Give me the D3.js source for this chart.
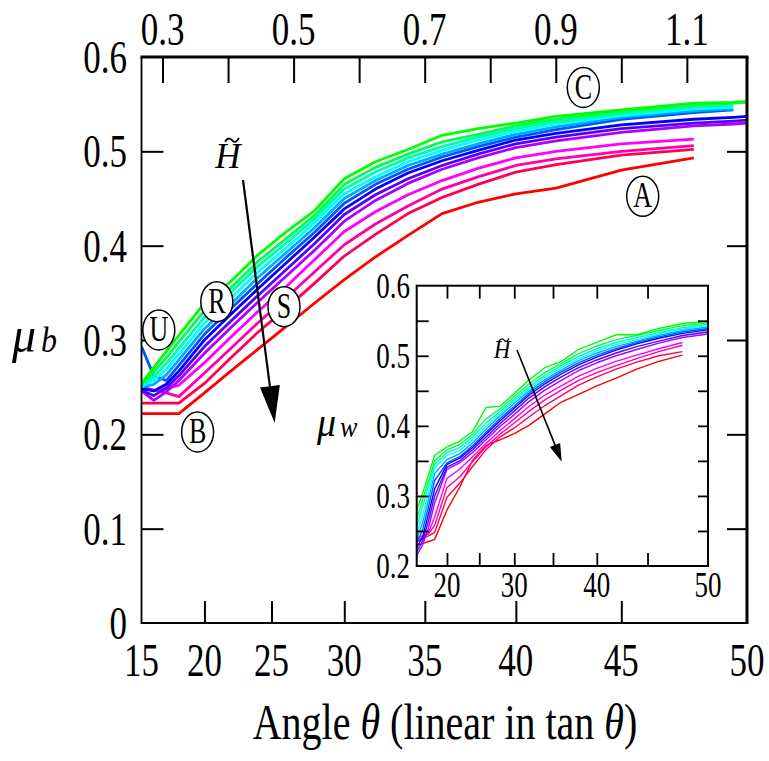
<!DOCTYPE html>
<html><head><meta charset="utf-8">
<script src="https://cdn.jsdelivr.net/npm/d3@7"></script>
<style>body{margin:0;background:#fff;} svg{display:block;}</style>
</head><body>
<svg id="chart" width="769" height="761"></svg>
<script>
// ---------- DATA ----------
const angles = [15,16,17,18,20,22,24,26,28,30,32,34,36,38,40,42,45,48,49.5,50];
const hues = [120,140,160,180,200,220,240,260,280,300,320,340,360];
const mu0  = [0.254,0.271,0.288,0.305,0.339,0.362,0.390,0.414,0.437,0.471,0.489,0.502,0.517,0.524,0.530,0.537,0.544,0.551,0.552,0.553];
const mu1  = [0.253,0.266,0.281,0.298,0.331,0.355,0.383,0.407,0.432,0.465,0.483,0.497,0.510,0.518,0.527,0.534,0.542,0.549,0.551,0.552];
const mu2  = [0.252,0.261,0.275,0.291,0.324,0.350,0.378,0.402,0.428,0.460,0.478,0.493,0.505,0.515,0.524,0.531,0.540,0.547,0.549,null];
const mu3  = [0.251,0.257,0.269,0.285,0.318,0.344,0.372,0.397,0.424,0.455,0.473,0.489,0.501,0.512,0.521,0.529,0.538,0.545,0.547,null];
const mu4  = [0.250,0.253,0.263,0.279,0.312,0.338,0.366,0.392,0.419,0.450,0.469,0.485,0.497,0.508,0.518,0.526,0.536,0.543,0.545,null];
const mu5  = [0.293,0.262,0.257,0.273,0.306,0.333,0.360,0.387,0.414,0.445,0.465,0.481,0.494,0.505,0.515,0.523,0.534,0.541,0.544,null];
const mu6  = [0.249,0.246,0.253,0.267,0.300,0.327,0.354,0.381,0.409,0.439,0.460,0.477,0.490,0.501,0.512,0.519,0.528,0.534,0.536,0.537];
const mu7  = [0.247,0.241,0.249,0.262,0.293,0.320,0.347,0.374,0.402,0.433,0.454,0.471,0.485,0.497,0.508,0.515,0.524,0.530,0.532,0.533];
const mu8  = [0.246,0.236,0.245,0.257,0.286,0.313,0.340,0.367,0.395,0.426,0.448,0.466,0.481,0.493,0.504,0.511,0.520,0.527,0.529,0.530];
const mu9  = [0.249,0.246,0.249,0.252,0.276,0.303,0.330,0.356,0.385,0.415,0.436,0.454,0.469,0.482,0.493,0.500,0.508,0.513,null,null];
const mu10 = [0.250,0.247,0.244,0.240,0.265,0.291,0.318,0.344,0.372,0.401,0.423,0.442,0.460,0.473,0.485,0.492,0.500,0.506,null,null];
const mu11 = [0.233,0.233,0.233,0.233,0.254,0.281,0.308,0.333,0.360,0.389,0.412,0.434,0.451,0.465,0.478,0.486,0.496,0.502,null,null];
const mu12 = [0.222,0.222,0.222,0.222,0.244,0.267,0.290,0.314,0.339,0.364,0.388,0.411,0.434,0.446,0.455,0.461,0.480,0.493,null,null];
const mainSeries = [mu0,mu1,mu2,mu3,mu4,mu5,mu6,mu7,mu8,mu9,mu10,mu11,mu12];

const insetAngles = [15,16,17,18,20,22,24,26,28,30,32,34,36,38,40,42,44,46,48,50];
const w0  = [0.280,0.304,0.330,0.358,0.370,0.378,0.392,0.426,0.428,0.446,0.466,0.483,0.492,0.509,0.519,0.530,0.530,0.539,0.546,0.549];
const w1  = [0.266,0.295,0.322,0.350,0.366,0.373,0.388,0.410,0.424,0.442,0.460,0.476,0.489,0.503,0.514,0.523,0.529,0.536,0.543,0.547];
const w2  = [0.255,0.285,0.315,0.345,0.362,0.369,0.384,0.404,0.420,0.438,0.456,0.472,0.486,0.499,0.510,0.519,0.526,0.533,0.540,0.545];
const w3  = [0.245,0.272,0.305,0.340,0.358,0.365,0.380,0.399,0.417,0.435,0.453,0.469,0.483,0.496,0.507,0.516,0.523,0.531,0.538,0.543];
const w4  = [0.238,0.262,0.295,0.332,0.352,0.360,0.376,0.395,0.414,0.432,0.450,0.466,0.480,0.493,0.504,0.513,0.521,0.529,0.536,0.541];
const w5  = [0.232,0.252,0.285,0.322,0.347,0.356,0.372,0.391,0.410,0.428,0.447,0.463,0.477,0.490,0.501,0.510,0.519,0.527,0.534,0.539];
const w6  = [0.226,0.242,0.275,0.310,0.345,0.354,0.369,0.388,0.407,0.425,0.444,0.460,0.474,0.487,0.498,0.508,0.517,0.525,0.532,0.537];
const w7  = [0.220,0.236,0.265,0.300,0.341,0.350,0.366,0.384,0.403,0.421,0.440,0.456,0.470,0.483,0.494,0.504,0.513,0.521,0.529,0.534];
const w8  = [0.215,0.230,0.255,0.290,0.338,0.347,0.362,0.380,0.399,0.416,0.435,0.451,0.465,0.479,0.490,0.500,0.509,0.518,0.526,0.531];
const w9  = [0.235,0.238,0.248,0.270,0.325,0.338,0.356,0.375,0.393,0.410,0.428,0.444,0.457,0.471,0.482,0.492,0.501,0.510,0.519,null];
const w10 = [0.240,0.243,0.246,0.258,0.312,0.327,0.349,0.370,0.388,0.404,0.421,0.437,0.451,0.465,0.476,0.486,0.496,0.506,0.515,null];
const w11 = [0.236,0.240,0.243,0.248,0.298,0.318,0.342,0.366,0.384,0.397,0.413,0.429,0.443,0.458,0.470,0.481,0.491,0.500,0.506,null];
const w12 = [0.230,0.232,0.235,0.238,0.280,0.312,0.351,0.372,0.380,0.389,0.401,0.417,0.434,0.445,0.457,0.468,0.481,0.492,0.501,null];
const insetSeries = [w0,w1,w2,w3,w4,w5,w6,w7,w8,w9,w10,w11,w12];

const mainYTickLabels = [0,0.1,0.2,0.3,0.4,0.5,0.6];
const mainXTickLabels = [15,20,25,30,35,40,45,50];
const topTicks = [0.3,0.4,0.5,0.6,0.7,0.8,0.9,1.0,1.1];
const topTickLabels = [0.3,0.5,0.7,0.9,1.1];
const insetXTickLabels = [20,30,40,50];
const insetXMinor = [20,25,30,35,40,45];
const insetYTickLabels = [0.2,0.3,0.4,0.5,0.6];
const insetYMinor = [0.25,0.3,0.35,0.4,0.45,0.5,0.55];
const circledLetters = ["U","R","S","B","C","A"];

// ---------- SETUP ----------
const svg = d3.select("#chart");
const SERIF = "'Liberation Serif','Times New Roman',Times,serif";
const rad = d => d*Math.PI/180;
function txt(g, x, y, s, o) {
  const t = g.append("text")
    .attr("transform", `translate(${x},${y}) scale(1,${o.sy||1})`)
    .attr("text-anchor", o.anchor||"middle")
    .attr("font-family", SERIF)
    .attr("font-size", o.size)
    .attr("font-style", o.italic ? "italic" : "normal")
    .attr("fill", "#000");
  if (s !== null) t.text(s);
  return t;
}
const colorOf = h => d3.hsl(h % 360, 1, 0.5).formatHex();

// main scales
const M = {l:141.5, r:747, t:57, b:623};
const xT = d3.scaleLinear().domain([Math.tan(rad(15)), Math.tan(rad(50))]).range([M.l, M.r]);
const x = a => xT(Math.tan(rad(a)));
const y = d3.scaleLinear().domain([0,0.6]).range([M.b, M.t]);

svg.append("clipPath").attr("id","mclip").append("rect")
  .attr("x",M.l).attr("y",M.t).attr("width",M.r-M.l).attr("height",M.b-M.t);

const lineMain = d3.line().defined(d => d[1] != null).x(d => x(d[0])).y(d => y(d[1]));
const gLines = svg.append("g").attr("clip-path","url(#mclip)");
for (let i = mainSeries.length-1; i >= 0; i--) {
  gLines.append("path")
    .datum(angles.map((a,k) => [a, mainSeries[i][k]]))
    .attr("d", lineMain).attr("fill","none")
    .attr("stroke", colorOf(hues[i])).attr("stroke-width", 2.8)
    .attr("stroke-linejoin","round");
}

const gAx = svg.append("g");
gAx.append("g").attr("transform",`translate(${M.l},0)`)
  .call(d3.axisLeft(y).tickValues([0.1,0.2,0.3,0.4,0.5]).tickSizeInner(-22).tickSizeOuter(0).tickFormat(""));
gAx.append("g").attr("transform",`translate(${M.r},0)`)
  .call(d3.axisRight(y).tickValues([0.1,0.2,0.3,0.4,0.5]).tickSizeInner(-20).tickSizeOuter(0).tickFormat(""));
gAx.append("g").attr("transform",`translate(0,${M.b})`)
  .call(d3.axisBottom(xT).tickValues([20,25,30,35,40,45].map(a=>Math.tan(rad(a)))).tickSizeInner(-22).tickSizeOuter(0).tickFormat(""));
gAx.append("g").attr("transform",`translate(0,${M.t})`)
  .call(d3.axisTop(xT).tickValues(topTicks).tickSizeInner(-26).tickSizeOuter(0).tickFormat(""));
gAx.selectAll(".domain").remove();
gAx.selectAll(".tick line").attr("stroke","#000").attr("stroke-width",2);

const fr = svg.append("g").attr("stroke","#000").attr("fill","none");
fr.append("line").attr("x1",M.l-1).attr("x2",M.r+1.5).attr("y1",M.t).attr("y2",M.t).attr("stroke-width",3);
fr.append("line").attr("x1",M.r).attr("x2",M.r).attr("y1",M.t).attr("y2",M.b).attr("stroke-width",3);
fr.append("line").attr("x1",M.l).attr("x2",M.l).attr("y1",M.t).attr("y2",M.b+1).attr("stroke-width",1.8);
fr.append("line").attr("x1",M.l).attr("x2",M.r+1.5).attr("y1",M.b).attr("y2",M.b).attr("stroke-width",2);

const FS = 35, SY = 1.35, half = 0.68*FS*SY/2;
mainYTickLabels.forEach(v => txt(svg, 127, y(v)+half, v===0 ? "0" : d3.format(".1f")(v), {size:FS, sy:SY, anchor:"end"}));
mainXTickLabels.forEach(a => txt(svg, x(a), 676, String(a), {size:FS, sy:SY}));
topTickLabels.forEach(v => txt(svg, xT(v), 45, d3.format(".1f")(v), {size:FS, sy:SY}));

const tt = txt(svg, 445, 739, null, {size:40, sy:1.25});
tt.append("tspan").text("Angle ");
tt.append("tspan").attr("font-style","italic").text("θ");
tt.append("tspan").text(" (linear in tan ");
tt.append("tspan").attr("font-style","italic").text("θ");
tt.append("tspan").text(")");

// y label mu_b
txt(svg, 12, 352, "μ", {size:48, sy:1.05, anchor:"start", italic:true});
txt(svg, 41, 352, "b", {size:32, sy:1.15, anchor:"start", italic:true});

function tilde(g, cx, cy, w, sw) {
  const p = d3.path();
  p.moveTo(cx-w/2, cy+w*0.12);
  p.bezierCurveTo(cx-w*0.25, cy-w*0.28, cx-w*0.05, cy-w*0.05, cx+w*0.05, cy+w*0.05);
  p.bezierCurveTo(cx+w*0.2, cy+w*0.25, cx+w*0.38, cy+w*0.05, cx+w/2, cy-w*0.15);
  g.append("path").attr("d", p.toString()).attr("fill","none").attr("stroke","#000").attr("stroke-width",sw);
}
function arrow(g, x1, y1, x2, y2, hl, hw, sw) {
  const dx = x2-x1, dy = y2-y1, L = Math.hypot(dx,dy), ux = dx/L, uy = dy/L;
  const bx = x2-ux*hl, by = y2-uy*hl;
  g.append("line").attr("x1",x1).attr("y1",y1).attr("x2",bx+ux*2).attr("y2",by+uy*2)
    .attr("stroke","#000").attr("stroke-width",sw);
  g.append("path").attr("d", `M${x2},${y2}L${bx-uy*hw},${by+ux*hw}L${bx+uy*hw},${by-ux*hw}Z`).attr("fill","#000");
}
txt(svg, 228, 168, "H", {size:35, sy:1.05, italic:true});
tilde(svg, 232, 140, 14, 1.8);
arrow(svg, 243, 180, 274.7, 423, 37, 10, 2.2);

const letterPos = [[158.8,330],[216.8,301.7],[284,306.7],[197.6,432],[583.3,87.5],[642.7,196.3]];
circledLetters.forEach((s,i) => {
  const [cx,cy] = letterPos[i];
  svg.append("ellipse").attr("cx",cx).attr("cy",cy).attr("rx",16).attr("ry",20)
    .attr("fill","#fff").attr("stroke","#000").attr("stroke-width",1.5);
  txt(svg, cx, cy+11, s, {size:26, sy:1.35});
});

// ---------- INSET ----------
const I = {l:416.7, r:708, t:285.7, b:566};
const ixT = d3.scaleLinear().domain([Math.tan(rad(15)), Math.tan(rad(50))]).range([I.l, I.r]);
const ix = a => ixT(Math.tan(rad(a)));
const iy = d3.scaleLinear().domain([0.2,0.6]).range([I.b, I.t]);
const gi = svg.append("g");
gi.append("rect").attr("x",I.l).attr("y",I.t).attr("width",I.r-I.l).attr("height",I.b-I.t).attr("fill","#fff");
gi.append("clipPath").attr("id","iclip").append("rect")
  .attr("x",I.l).attr("y",I.t).attr("width",I.r-I.l).attr("height",I.b-I.t);
const lineInset = d3.line().defined(d => d[1] != null).x(d => ix(d[0])).y(d => iy(d[1]));
const giL = gi.append("g").attr("clip-path","url(#iclip)");
for (let i = insetSeries.length-1; i >= 0; i--) {
  giL.append("path")
    .datum(insetAngles.map((a,k) => [a, insetSeries[i][k]]))
    .attr("d", lineInset).attr("fill","none")
    .attr("stroke", colorOf(hues[i])).attr("stroke-width", 1.4)
    .attr("stroke-linejoin","round");
}
const giA = gi.append("g");
const minorX = insetXMinor.map(a => Math.tan(rad(a)));
giA.append("g").attr("transform",`translate(0,${I.b})`)
  .call(d3.axisBottom(ixT).tickValues(minorX).tickSizeInner(-13).tickSizeOuter(0).tickFormat(""));
giA.append("g").attr("transform",`translate(0,${I.t})`)
  .call(d3.axisTop(ixT).tickValues(minorX).tickSizeInner(-13).tickSizeOuter(0).tickFormat(""));
giA.append("g").attr("transform",`translate(${I.l},0)`)
  .call(d3.axisLeft(iy).tickValues(insetYMinor).tickSizeInner(-12).tickSizeOuter(0).tickFormat(""));
giA.append("g").attr("transform",`translate(${I.r},0)`)
  .call(d3.axisRight(iy).tickValues(insetYMinor).tickSizeInner(-10).tickSizeOuter(0).tickFormat(""));
giA.selectAll(".domain").remove();
giA.selectAll(".tick line").attr("stroke","#000").attr("stroke-width",1.8);
gi.append("rect").attr("x",I.l).attr("y",I.t).attr("width",I.r-I.l).attr("height",I.b-I.t)
  .attr("fill","none").attr("stroke","#000").attr("stroke-width",2);

const IFS = 27, ISY = 1.3, ihalf = 0.68*IFS*ISY/2;
insetYTickLabels.forEach(v => txt(gi, 410, iy(v)+ihalf, d3.format(".1f")(v), {size:IFS, sy:ISY, anchor:"end"}));
insetXTickLabels.forEach(a => txt(gi, ix(a), 585+ihalf, String(a), {size:IFS, sy:ISY}));
txt(gi, 317, 436, "μ", {size:38, sy:1.05, anchor:"start", italic:true});
txt(gi, 340, 437, "w", {size:26, sy:1.1, anchor:"start", italic:true});
txt(gi, 502, 358, "H", {size:23, sy:1.1, italic:true});
tilde(gi, 504, 340, 10, 1.3);
arrow(gi, 517, 350, 561.7, 461.7, 18, 5.5, 1.6);
</script>
</body></html>
